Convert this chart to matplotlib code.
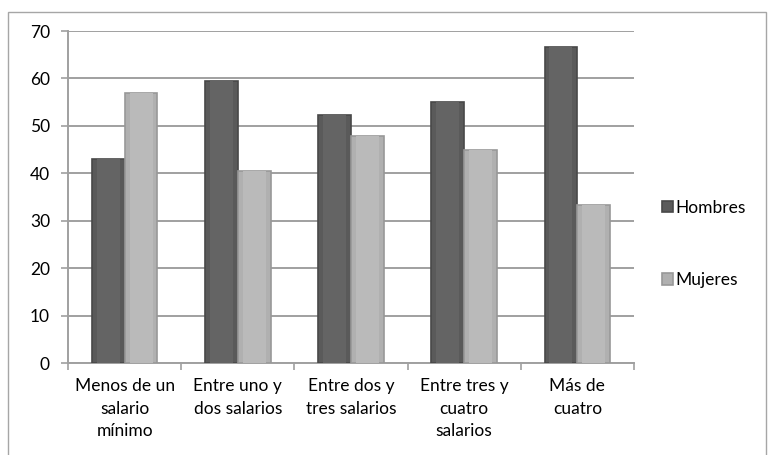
import numpy as np
import matplotlib.pyplot as plt
from matplotlib.patches import Rectangle

# --- Data ---
categorias = ['Menos de un\nsalario\nmínimo', 'Entre uno y\ndos salarios',
              'Entre dos y\ntres salarios', 'Entre tres y\ncuatro\nsalarios',
              'Más de\ncuatro']
hombres = [43.0, 59.5, 52.2, 55.0, 66.7]
mujeres = [57.0, 40.5, 47.8, 45.0, 33.3]

plt.rcParams['font.family'] = ['Lato', 'DejaVu Sans']

W, H = 768, 455
fig = plt.figure(figsize=(W / 100, H / 100), dpi=100)
ax = fig.add_axes([68 / W, 1 - 363 / H, (634 - 68) / W, (363 - 31) / H])

# outer chart border
fig.patches.append(Rectangle((8 / W, -0.05), (766 - 8) / W, 1.05 - 12 / H,
                             transform=fig.transFigure, fill=False,
                             edgecolor='#a6a6a6', linewidth=1.0))

x = np.arange(len(categorias))
w = 0.29
c_h, c_m = '#5a5a5a', '#b0b0b0'

ax.bar(x - w / 2, hombres, w, color=c_h, edgecolor='#484848', linewidth=1.2,
       zorder=3, label='Hombres')
ax.bar(x + w / 2, mujeres, w, color=c_m, edgecolor='#989898', linewidth=1.2,
       zorder=3, label='Mujeres')
# soft bevel: lighter middle part of each bar
ax.bar(x - w / 2, hombres, w * 0.7, color='#646464', linewidth=0, zorder=4)
ax.bar(x + w / 2, mujeres, w * 0.7, color='#bababa', linewidth=0, zorder=4)

ax.set_xlim(-0.5, len(categorias) - 0.5)
ax.set_ylim(0, 70)
ax.set_yticks(range(0, 71, 10))
ax.yaxis.grid(True, color='#a0a0a0', linewidth=1.4, zorder=0)
ax.set_axisbelow(True)

fs = 12.5
ax.set_xticks(x)
ax.set_xticklabels(categorias, fontsize=fs, linespacing=1.5)
ax.set_xticks(np.arange(-0.5, len(categorias)), minor=True)
ax.tick_params(axis='x', which='major', length=0, pad=11)
ax.tick_params(axis='x', which='minor', length=5, color='#a0a0a0', width=1.2)
ax.tick_params(axis='y', length=5, color='#a0a0a0', width=1.2, labelsize=fs, pad=8)

for s in ['top', 'right']:
    ax.spines[s].set_visible(False)
for s in ['left', 'bottom']:
    ax.spines[s].set_color('#a0a0a0')
    ax.spines[s].set_linewidth(1.4)

h, l = ax.get_legend_handles_labels()
fig.legend(h[:2], l[:2], loc='center left', bbox_to_anchor=(653 / W, 1 - 244 / H),
           frameon=False, fontsize=fs, handlelength=0.65, handleheight=0.65,
           handletextpad=0.15, labelspacing=3.25, borderpad=0)

fig.savefig('out.png', dpi=100)
